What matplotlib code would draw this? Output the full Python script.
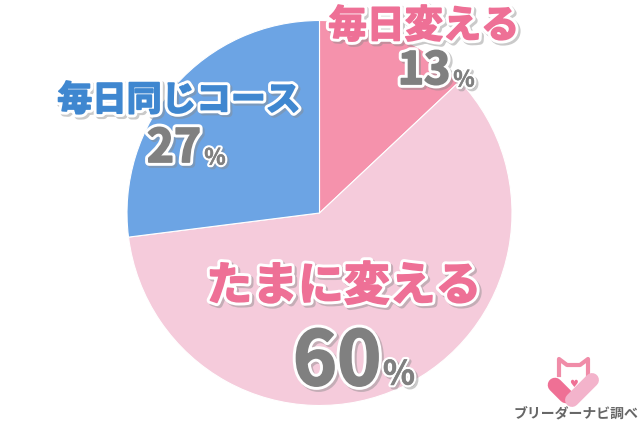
import matplotlib
matplotlib.use("Agg")
import matplotlib.pyplot as plt
import matplotlib.patheffects as pe

plt.rcParams["font.family"] = ["Noto Sans CJK JP", "DejaVu Sans"]

HEIGHT = 427

labels  = ["毎日変える", "たまに変える", "毎日同じコース"]
values  = [13, 60, 27]
colors  = ["#F592AC", "#F5CBDB", "#6CA4E4"]
label_colors = ["#EE7096", "#EE7096", "#3F87D0"]
GREY = "#808080"

# pixel positions of the texts, y from the top of the image
label_pos  = [(424, 27), (344, 288), (179, 101)]
label_size = [27.5, 33, 25]
value_pos  = [(424, 72), (337, 364), (174, 150)]
value_size = [32, 54, 33]
pct_pos    = [(464, 81), (399, 376), (215, 159)]
pct_size   = [16, 24, 16]


def put_text(ax, x, y, s, size, color, stroke=5.5, body=1.3):
    effects = [
        pe.Stroke(linewidth=stroke, foreground="#8a8a8a", alpha=0.45, offset=(1.5, -1.5)),
        pe.Stroke(linewidth=stroke, foreground="white"),
        pe.Stroke(linewidth=body, foreground=color),
        pe.Normal(),
    ]
    ax.text(x, HEIGHT - y, s, fontsize=size, color=color, fontweight="bold",
            ha="center", va="center", path_effects=effects, zorder=5)


fig = plt.figure(figsize=(6.4, 4.27), dpi=100)
ax = fig.add_axes([0, 0, 1, 1])

ax.pie(values, colors=colors, startangle=90, counterclock=False,
       center=(319.5, HEIGHT - 214), radius=192.5,
       wedgeprops={"edgecolor": "white", "linewidth": 0.8})
ax.set_xlim(0, 640)
ax.set_ylim(0, HEIGHT)
ax.axis("off")

for i in range(len(values)):
    put_text(ax, *label_pos[i], labels[i], label_size[i], label_colors[i])
    put_text(ax, *value_pos[i], str(values[i]), value_size[i], GREY)
    put_text(ax, *pct_pos[i], "%", pct_size[i], GREY, stroke=3.5, body=0.4)

# logo
ax.plot([559, 559, 567, 580, 588, 588],
        [HEIGHT - y for y in (376, 360, 366, 366, 360, 376)],
        color="#F08CA8", lw=3, solid_joinstyle="round", zorder=3)
ax.plot([555, 566], [HEIGHT - 386, HEIGHT - 397], color="#EF7095", lw=10.5,
        solid_capstyle="round", zorder=3)
ax.plot([572, 592], [HEIGHT - 401, HEIGHT - 381], color="#F3B3CB", lw=10,
        solid_capstyle="round", zorder=4)
ax.text(573, HEIGHT - 384, "♥", fontsize=7, color="#EF7095", ha="center", va="center",
        family="DejaVu Sans", zorder=4)
ax.text(576, HEIGHT - 414, "ブリーダーナビ調べ", fontsize=10, color="#666666",
        fontweight="bold", ha="center", va="center", zorder=4)

fig.savefig("out.png", dpi=100)
